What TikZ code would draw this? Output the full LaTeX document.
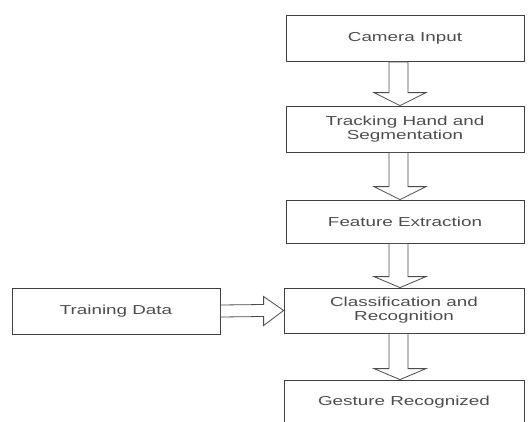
\documentclass[tikz,border=0pt]{standalone}
\usepackage{fontspec}
\setmainfont{Liberation Sans}[FakeStretch=1.45]
\usepackage{tikz}

\begin{document}
\begin{tikzpicture}[
  x=1pt, y=1pt,
  box/.style={draw=black!75,line width=0.8pt,inner sep=0pt,align=center,
    minimum width=238pt,minimum height=46pt,text=black!70,
    font=\fontsize{13}{14}\selectfont},
  hollow/.style={draw=black!70,line width=0.8pt,line join=miter,fill=white}
]
  \useasboundingbox (0,0) rectangle (528,-421);
  \node[box] (cam) at (405,-38.5) {Camera Input};
  \node[box] (track) at (405,-129) {Tracking Hand and\\Segmentation};
  \node[box,minimum height=43pt] (feat) at (405,-221.5) {Feature Extraction};
  \node[box,minimum width=240pt,minimum height=45pt] (cls) at (404,-310.5) {Classification and\\Recognition};
  \node[box,minimum width=240pt,minimum height=45pt] (gest) at (404,-402.5) {Gesture Recognized};
  \node[box,minimum width=208pt] (train) at (116,-311) {Training Data};
  \draw[hollow] ([xshift=-16pt]cam.south) -- ([xshift=-16pt,yshift=13pt]track.north) -- ([xshift=-31pt,yshift=13pt]track.north) -- ([xshift=-5pt]track.north) -- ([xshift=21pt,yshift=13pt]track.north) -- ([xshift=3pt,yshift=13pt]track.north) -- ([xshift=3pt]cam.south) -- cycle;
  \draw[hollow] ([xshift=-16pt]track.south) -- ([xshift=-16pt,yshift=13pt]feat.north) -- ([xshift=-31pt,yshift=13pt]feat.north) -- ([xshift=-5pt]feat.north) -- ([xshift=21pt,yshift=13pt]feat.north) -- ([xshift=3pt,yshift=13pt]feat.north) -- ([xshift=3pt]track.south) -- cycle;
  \draw[hollow] ([xshift=-16pt]feat.south) -- ([xshift=-15pt,yshift=11pt]cls.north) -- ([xshift=-30pt,yshift=11pt]cls.north) -- ([xshift=-4pt]cls.north) -- ([xshift=22pt,yshift=11pt]cls.north) -- ([xshift=4pt,yshift=11pt]cls.north) -- ([xshift=3pt]feat.south) -- cycle;
  \draw[hollow] ([xshift=-15pt]cls.south) -- ([xshift=-15pt,yshift=11pt]gest.north) -- ([xshift=-30pt,yshift=11pt]gest.north) -- ([xshift=-4pt]gest.north) -- ([xshift=22pt,yshift=11pt]gest.north) -- ([xshift=4pt,yshift=11pt]gest.north) -- ([xshift=4pt]cls.south) -- cycle;
  \draw[hollow] ([yshift=6pt]train.east) -- ([xshift=-20pt,yshift=6pt]cls.west) -- ([xshift=-20pt,yshift=14pt]cls.west) -- (cls.west) -- ([xshift=-20pt,yshift=-15pt]cls.west) -- ([xshift=-20pt,yshift=-6pt]cls.west) -- ([yshift=-6pt]train.east) -- cycle;
\end{tikzpicture}
\end{document}
